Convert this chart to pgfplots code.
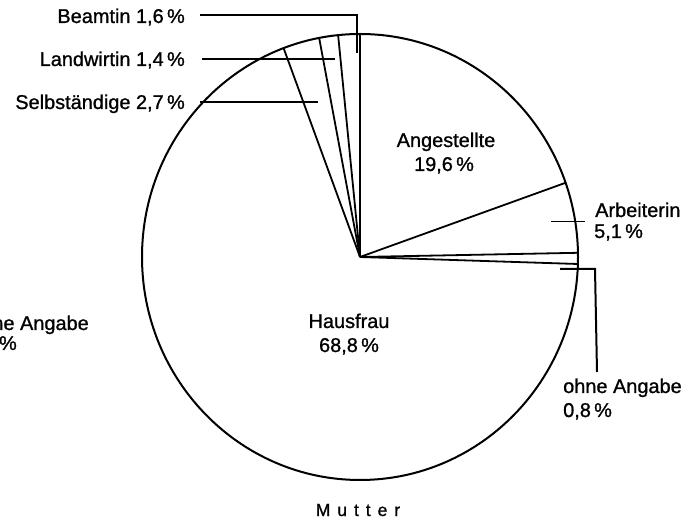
\documentclass[border=0pt]{standalone}
\usepackage{pgfplots}
\pgfplotsset{compat=1.18}
\usepackage{pgfplotstable}
\usepackage{fontspec}
\setmainfont[FakeBold=1]{Liberation Sans}
\newfontfamily\ttl[LetterSpace=40,FakeBold=1]{Liberation Sans}

% shares of the pie, clockwise from the top
\pgfplotstableread{
share
19.6
5.1
0.8
68.8
2.7
1.4
1.6
}\pietable

\def\cx{360}
\def\cy{267}
\def\rx{218}
\def\ry{223}

\begin{document}
\begin{tikzpicture}
\begin{axis}[width=698bp, height=524bp, scale only axis,
  xmin=0, xmax=698, ymin=0, ymax=524,
  axis lines=none, clip=false]
  % outline
  \draw[line width=2bp] (axis cs:\cx,\cy) ellipse [x radius=\rx bp, y radius=\ry bp];
  % slice boundaries
  \xdef\cum{90}
  \pgfplotstableforeachcolumnelement{share}\of\pietable\as\v{%
    \pgfmathsetmacro\ang{\cum-3.6*\v}%
    \xdef\cum{\ang}%
    \edef\temp{\noexpand\draw[line width=1.8bp] (axis cs:\cx,\cy) -- (axis cs:{\cx+\rx*cos(\ang)},{\cy+\ry*sin(\ang)});}\temp
  }
  \draw[line width=1.8bp] (axis cs:\cx,\cy) -- (axis cs:\cx,{\cy+\ry});
  % leaders
  \draw[line width=2bp] (axis cs:200,509) -- (axis cs:357,509) -- (axis cs:357,471);
  \draw[line width=2bp] (axis cs:202,465) -- (axis cs:335,465);
  \draw[line width=2bp] (axis cs:200,422) -- (axis cs:318,422);
  \draw[line width=1bp] (axis cs:551,302) -- (axis cs:585,302);
  \draw[line width=2bp] (axis cs:560,255) -- (axis cs:595,255) -- (axis cs:597,152);
  % labels
  \tikzset{every node/.style={font=\fontsize{20}{24}\selectfont, inner sep=0pt}}
  \node[anchor=base east] at (axis cs:185,501) {Beamtin 1,6\,\%};
  \node[anchor=base east] at (axis cs:185,458) {Landwirtin 1,4\,\%};
  \node[anchor=base east] at (axis cs:185,415) {Selbständige 2,7\,\%};
  \node[anchor=base] at (axis cs:446,377) {Angestellte};
  \node[anchor=base] at (axis cs:444,353) {19,6\,\%};
  \node[anchor=base west] at (axis cs:595,307) {Arbeiterin};
  \node[anchor=base west] at (axis cs:594,286) {5,1\,\%};
  \node[anchor=base west] at (axis cs:563,131) {ohne Angabe};
  \node[anchor=base west] at (axis cs:563,107) {0,8\,\%};
  \node[anchor=base] at (axis cs:349,196) {Hausfrau};
  \node[anchor=base] at (axis cs:349,172) {68,8\,\%};
  \node[anchor=base east] at (axis cs:89,194) {ohne Angabe};
  \node[anchor=base east] at (axis cs:17,174) {0,9\,\%};
  \node[anchor=base, font=\ttl\fontsize{17.5}{20}\selectfont] at (axis cs:358,8) {Mutter};
\end{axis}
\pgfresetboundingbox
\useasboundingbox (current axis.south west) rectangle (current axis.north east);
\end{tikzpicture}
\end{document}
